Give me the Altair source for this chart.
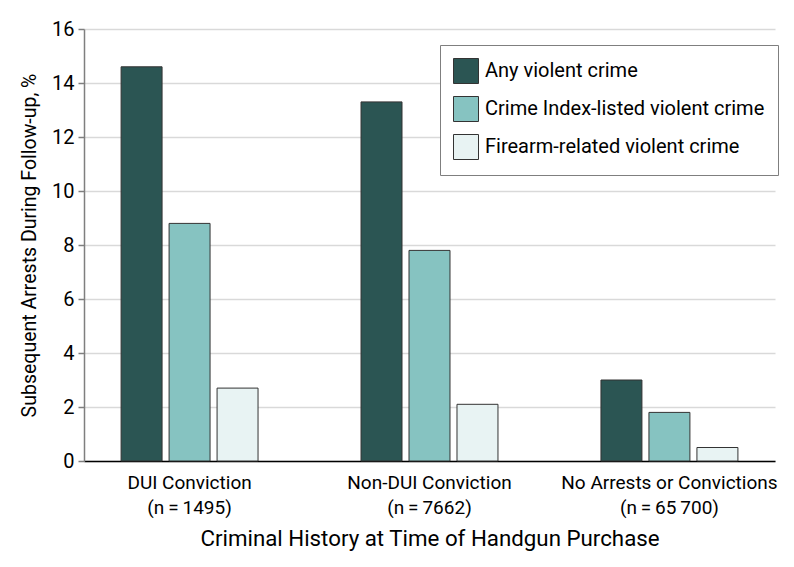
import altair as alt
import pandas as pd

groups = ["DUI Conviction", "Non-DUI Conviction", "No Arrests or Convictions"]
group_n = ["(n\u2009=\u20091495)", "(n\u2009=\u20097662)", "(n\u2009=\u200965\u2009700)"]
series = ["Any violent crime", "Crime Index-listed violent crime", "Firearm-related violent crime"]
any_violent = [14.6, 13.3, 3.0]
index_violent = [8.8, 7.8, 1.8]
firearm_violent = [2.7, 2.1, 0.5]
colors = ["#2b5553", "#86c3c1", "#e8f3f3"]

rows = []
for i, g in enumerate(groups):
    label = g + "|" + group_n[i]
    for s, vals in zip(series, [any_violent, index_violent, firearm_violent]):
        rows.append({"group": label, "series": s, "value": vals[i]})
df = pd.DataFrame(rows)
order = [g + "|" + n for g, n in zip(groups, group_n)]

FONT = "Roboto"

chart = alt.Chart(df).mark_bar(stroke="#333333", strokeWidth=1).encode(
    x=alt.X("group:N", sort=order,
            scale=alt.Scale(paddingInner=0.4, paddingOuter=0.14),
            axis=alt.Axis(title="Criminal History at Time of Handgun Purchase",
                          labelAngle=0, labelExpr="split(datum.label, '|')",
                          labelLineHeight=25, labelPadding=12, ticks=False,
                          labelLimit=400,
                          domainColor="#000000", domainWidth=1.5,
                          labelFontSize=19, titleFontSize=22.3, titlePadding=10,
                          labelColor="#000000", titleColor="#000000", titleFontWeight="normal",
                          labelFont=FONT, titleFont=FONT)),
    xOffset=alt.XOffset("series:N", sort=series,
                        scale=alt.Scale(paddingInner=0.146, paddingOuter=0.073)),
    y=alt.Y("value:Q", scale=alt.Scale(domain=[0, 16], nice=False),
            axis=alt.Axis(title="Subsequent Arrests During Follow-up, %",
                          values=[0, 2, 4, 6, 8, 10, 12, 14, 16],
                          gridColor="#d9d9d9", gridWidth=1.5,
                          domainColor="#7f7f7f", domainWidth=1.5,
                          tickColor="#7f7f7f", tickSize=6, tickWidth=1.5,
                          labelFontSize=20, titleFontSize=19.5, labelPadding=4,
                          titlePadding=12,
                          labelColor="#000000", titleColor="#000000", titleFontWeight="normal",
                          labelFont=FONT, titleFont=FONT)),
    fill=alt.Fill("series:N", sort=series,
                  scale=alt.Scale(domain=series, range=colors),
                  legend=alt.Legend(title=None, orient="none", legendX=356, legendY=16,
                                    symbolType="square", symbolSize=625,
                                    symbolStrokeColor="#333333", symbolStrokeWidth=1,
                                    labelFontSize=20, labelFont=FONT, labelColor="#000000",
                                    rowPadding=8, padding=13, labelOffset=6,
                                    strokeColor="#7f7f7f", fillColor="#ffffff",
                                    labelLimit=400)),
).properties(
    width=691, height=432,
    autosize=alt.AutoSizeParams(type="none"),
    padding={"left": 76, "top": 21, "right": 10, "bottom": 98},
).configure_view(stroke=None)

chart.save("out.html", embed_options={"renderer": "svg", "actions": False})
